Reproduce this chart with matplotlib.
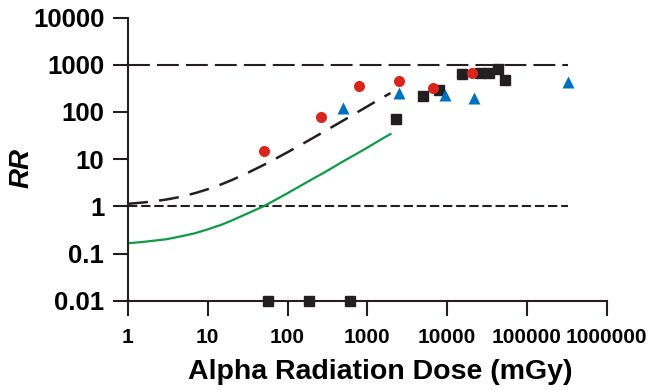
import matplotlib
matplotlib.use("Agg")
import matplotlib.pyplot as plt

# values
red_dose = [50, 265, 775, 2460, 6650, 20700]
red_rr = [14.6, 78, 355, 452, 321, 680]
blue_dose = [494, 2460, 9300, 21950, 329000]
blue_rr = [123, 256, 225, 200, 430]
black_dose = [2290, 4930, 7820, 15400, 26100, 33200, 43500, 53800]
black_rr = [72, 217, 287, 626, 668, 668, 827, 483]
zero_dose = [56.6, 188, 610]
zero_rr = [0.01, 0.01, 0.01]

fit_dose = [1, 1.5, 2, 3, 4, 5, 7, 10, 15, 20, 30, 50, 70, 100, 150, 200, 300, 500, 700, 1000, 1500, 1950]
fit_black = [1.13, 1.2, 1.26, 1.39, 1.52, 1.65, 1.91, 2.3, 2.95, 3.6, 4.9, 7.5, 10.1, 14, 20.5, 27, 40, 66, 92, 131, 196, 250]
fit_green = [0.165, 0.175, 0.185, 0.2, 0.22, 0.238, 0.27, 0.325, 0.41, 0.5, 0.68, 1.0, 1.36, 1.9, 2.8, 3.7, 5.4, 9, 12.4, 17.5, 26.4, 34]

ref_dose = [1, 330000]
ref_high = [1000, 1000]
ref_one = [1, 1]

xticks = [1, 10, 100, 1000, 10000, 100000, 1000000]
xlabels = ["1", "10", "100", "1000", "10000", "100000", "1000000"]
yticks = [0.01, 0.1, 1, 10, 100, 1000, 10000]
ylabels = ["0.01", "0.1", "1", "10", "100", "1000", "10000"]

plt.rcParams['font.family'] = ['Liberation Sans', 'DejaVu Sans']

fig = plt.figure(figsize=(6.49, 3.90), dpi=100)
ax = fig.add_axes([0.1972, 0.229, 0.7376, 0.726])

ax.plot(ref_dose, ref_high, color="#231f20", lw=1.5, dashes=(10.5, 3.4))
ax.plot(ref_dose, ref_one, color="#231f20", lw=1.5, dashes=(4.5, 1.8))
ax.plot(fit_dose, fit_black, color="#231f20", lw=1.8, dashes=(8, 4.5))
ax.plot(fit_dose, fit_green, color="#0f9a48", lw=1.6)

ax.plot(black_dose, black_rr, 's', color="#231f20", ms=7.5, zorder=3)
ax.plot(zero_dose, zero_rr, 's', color="#231f20", ms=7.5, zorder=4, clip_on=False)
ax.plot(red_dose, red_rr, 'o', color="#da251d", ms=8, mec='none', zorder=4)
ax.plot(blue_dose, blue_rr, '^', color="#0070c0", ms=9, mec='none', zorder=4)

ax.set_xscale('log')
ax.set_yscale('log')
ax.set_xlim(1, 1000000)
ax.set_ylim(0.01, 10000)
ax.minorticks_off()
ax.set_xticks(xticks)
ax.set_xticklabels(xlabels, fontsize=15, fontweight='bold')
ax.set_yticks(yticks)
ax.set_yticklabels(ylabels, fontsize=18.5, fontweight='bold')
ax.tick_params(direction='out', length=11, width=1.5, color="#231f20")
ax.tick_params(axis='x', pad=9)
ax.tick_params(axis='y', pad=6)

for s in ['top', 'right']:
    ax.spines[s].set_visible(False)
for s in ['left', 'bottom']:
    ax.spines[s].set_linewidth(1.5)
    ax.spines[s].set_color("#231f20")

fig.text(380 / 649, 1 - 379 / 390, "Alpha Radiation Dose (mGy)", fontsize=20.5,
         fontweight='bold', ha='center', va='baseline')
fig.text(22 / 649, 1 - 168 / 390, "RR", fontsize=20, fontweight='bold', style='italic',
         rotation=90, ha='center', va='center')

fig.savefig("out.png", dpi=100)
